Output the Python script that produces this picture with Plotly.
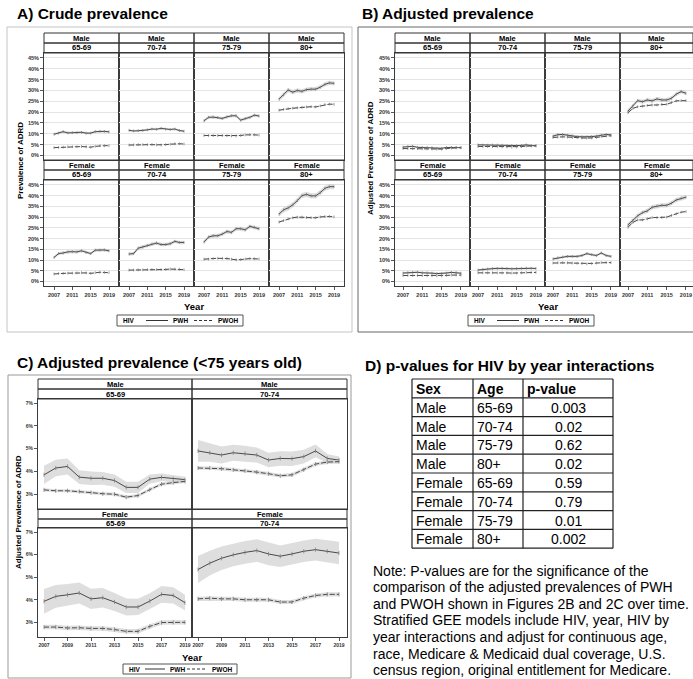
import plotly.graph_objects as go

W, H = 693, 679

# ---------------- data ----------------
years = [2007, 2008, 2009, 2010, 2011, 2012, 2013, 2014, 2015, 2016, 2017, 2018, 2019]
ab_xtick_vals = [2007, 2011, 2015, 2019]
c_xtick_vals = [2007, 2009, 2011, 2013, 2015, 2017, 2019]
ab_ytick_vals = [0, 5, 10, 15, 20, 25, 30, 35, 40, 45]
ab_ytick_text = ["0%", "5%", "10%", "15%", "20%", "25%", "30%", "35%", "40%", "45%"]
c_ytick_vals = [3, 4, 5, 6, 7]
c_ytick_text = ["3%", "4%", "5%", "6%", "7%"]
sexes = ["Male", "Female"]
ages = ["65-69", "70-74", "75-79", "80+"]
c_ages = ["65-69", "70-74"]

# A) crude prevalence (%)
a_m6569_pwh = [9.8, 10.3, 11.0, 10.4, 10.5, 10.5, 10.7, 10.3, 10.3, 11.0, 11.2, 11.1, 10.9]
a_m6569_pwoh = [3.6, 3.7, 3.8, 4.0, 4.0, 4.0, 4.1, 4.0, 3.8, 4.2, 4.5, 4.5, 4.5]
a_m7074_pwh = [11.6, 11.3, 11.4, 11.5, 11.8, 12.2, 12.1, 12.5, 12.1, 12.0, 12.2, 11.5, 11.2]
a_m7074_pwoh = [4.8, 4.9, 5.0, 5.0, 5.0, 5.0, 4.9, 4.8, 5.0, 5.2, 5.4, 5.4, 5.3]
a_m7579_pwh = [16.0, 17.6, 17.7, 17.5, 17.1, 17.8, 18.3, 18.3, 16.3, 17.0, 17.6, 18.6, 18.2]
a_m7579_pwoh = [9.2, 9.2, 9.2, 9.2, 9.2, 9.1, 9.0, 9.0, 9.2, 9.5, 9.6, 9.5, 9.4]
a_m80_pwh = [26.0, 28.0, 30.2, 29.2, 30.0, 29.6, 30.4, 30.6, 30.6, 31.5, 32.8, 33.5, 33.3]
a_m80_pwoh = [20.9, 21.3, 21.6, 21.8, 22.0, 22.2, 22.4, 22.5, 22.4, 22.9, 23.5, 23.7, 23.6]
a_f6569_pwh = [11.2, 13.0, 13.3, 13.8, 13.9, 13.8, 14.3, 13.5, 13.0, 14.6, 14.6, 14.7, 14.3]
a_f6569_pwoh = [3.5, 3.7, 3.8, 3.9, 3.9, 4.0, 4.1, 4.0, 3.8, 4.1, 4.3, 4.2, 4.1]
a_f7074_pwh = [12.8, 13.0, 15.5, 16.1, 16.8, 17.5, 17.9, 17.2, 17.2, 17.6, 18.7, 18.2, 18.2]
a_f7074_pwoh = [5.3, 5.3, 5.4, 5.4, 5.5, 5.6, 5.5, 5.5, 5.6, 5.8, 5.8, 5.7, 5.5]
a_f7579_pwh = [18.4, 20.7, 21.3, 21.3, 22.1, 23.3, 22.9, 24.6, 24.6, 24.1, 25.7, 25.3, 24.6]
a_f7579_pwoh = [10.4, 10.4, 10.7, 10.8, 10.8, 10.7, 10.4, 10.1, 10.2, 10.5, 10.7, 10.6, 10.5]
a_f80_pwh = [31.4, 33.4, 34.3, 35.7, 37.7, 40.0, 40.6, 39.9, 39.9, 41.4, 43.4, 44.2, 44.2]
a_f80_pwoh = [27.7, 28.4, 29.2, 29.7, 30.0, 30.0, 29.8, 29.7, 29.7, 30.1, 30.3, 30.3, 30.1]
# A) confidence half-widths (percentage points), PWH / PWOH per cell
a_pwh_hw = [0.5, 0.5, 0.7, 1.0, 0.7, 0.8, 0.9, 1.2]
a_pwoh_hw = [0.15, 0.15, 0.2, 0.3, 0.15, 0.2, 0.2, 0.3]

# C) adjusted prevalence (<75), also used for the <75 cells of B
c_m6569_pwh = [3.85, 4.15, 4.22, 3.75, 3.70, 3.70, 3.60, 3.30, 3.30, 3.66, 3.74, 3.68, 3.64]
c_m6569_pwoh = [3.19, 3.15, 3.15, 3.12, 3.07, 3.02, 3.00, 2.87, 2.94, 3.20, 3.44, 3.51, 3.56]
c_m7074_pwh = [4.90, 4.82, 4.72, 4.82, 4.78, 4.72, 4.50, 4.57, 4.56, 4.65, 4.90, 4.57, 4.50]
c_m7074_pwoh = [4.15, 4.15, 4.12, 4.07, 4.03, 3.97, 3.90, 3.81, 3.85, 4.07, 4.32, 4.41, 4.43]
c_f6569_pwh = [3.93, 4.15, 4.22, 4.30, 4.04, 4.09, 3.90, 3.68, 3.68, 3.94, 4.24, 4.19, 3.87]
c_f6569_pwoh = [2.79, 2.79, 2.75, 2.76, 2.73, 2.73, 2.68, 2.60, 2.60, 2.82, 2.99, 3.00, 3.00]
c_f7074_pwh = [5.34, 5.62, 5.84, 5.99, 6.10, 6.18, 6.03, 5.93, 6.03, 6.15, 6.22, 6.15, 6.07]
c_f7074_pwoh = [4.04, 4.07, 4.04, 4.04, 4.00, 4.00, 4.00, 3.90, 3.90, 4.07, 4.19, 4.24, 4.24]
c_m6569_pwh_hw = [0.40, 0.36, 0.35, 0.30, 0.30, 0.28, 0.27, 0.25, 0.25, 0.20, 0.17, 0.15, 0.13]
c_m6569_pwoh_hw = [0.07, 0.07, 0.07, 0.07, 0.07, 0.07, 0.07, 0.07, 0.07, 0.07, 0.07, 0.07, 0.07]
c_m7074_pwh_hw = [0.48, 0.40, 0.37, 0.35, 0.35, 0.33, 0.32, 0.32, 0.32, 0.30, 0.28, 0.20, 0.15]
c_m7074_pwoh_hw = [0.08, 0.08, 0.08, 0.08, 0.08, 0.08, 0.08, 0.08, 0.08, 0.08, 0.08, 0.08, 0.08]
c_f6569_pwh_hw = [0.55, 0.50, 0.48, 0.47, 0.45, 0.43, 0.40, 0.38, 0.36, 0.35, 0.37, 0.36, 0.35]
c_f6569_pwoh_hw = [0.10, 0.10, 0.10, 0.10, 0.10, 0.10, 0.10, 0.10, 0.10, 0.10, 0.10, 0.10, 0.10]
c_f7074_pwh_hw = [0.60, 0.55, 0.52, 0.50, 0.50, 0.50, 0.50, 0.48, 0.48, 0.48, 0.48, 0.48, 0.50]
c_f7074_pwoh_hw = [0.09, 0.09, 0.09, 0.09, 0.09, 0.09, 0.09, 0.09, 0.09, 0.09, 0.09, 0.09, 0.09]

# B) adjusted prevalence (%), 75+ cells
b_m7579_pwh = [8.9, 9.6, 9.7, 9.3, 9.0, 8.7, 8.6, 8.5, 8.7, 8.9, 9.4, 9.7, 9.5]
b_m7579_pwoh = [8.3, 8.5, 8.6, 8.5, 8.3, 8.2, 8.0, 8.0, 8.1, 8.3, 8.8, 9.0, 9.1]
b_m80_pwh = [20.5, 22.8, 25.3, 24.8, 25.6, 25.2, 26.1, 25.6, 25.6, 26.4, 28.3, 29.5, 28.7]
b_m80_pwoh = [19.7, 21.7, 22.5, 22.8, 23.1, 23.3, 23.3, 23.6, 23.6, 24.4, 25.2, 25.3, 25.3]
b_f7579_pwh = [10.5, 11.0, 11.4, 11.7, 11.7, 11.7, 12.1, 13.0, 12.5, 12.1, 13.3, 12.1, 11.7]
b_f7579_pwoh = [8.6, 8.7, 8.8, 8.7, 8.6, 8.5, 8.4, 8.2, 8.4, 8.6, 8.8, 8.8, 8.8]
b_f80_pwh = [26.4, 28.4, 30.6, 32.1, 32.9, 34.6, 35.2, 35.5, 35.5, 36.5, 38.0, 38.8, 39.3]
b_f80_pwoh = [25.3, 27.5, 28.7, 28.7, 29.2, 29.8, 29.8, 29.8, 30.0, 30.8, 31.5, 32.3, 32.6]
b_pwh_hw = [0.35, 0.35, 0.6, 0.9, 0.45, 0.5, 0.6, 1.0]
b_pwoh_hw = [0.07, 0.08, 0.15, 0.25, 0.1, 0.09, 0.15, 0.25]

# D) table
table_header = ["Sex", "Age", "p-value"]
table_sex = ["Male", "Male", "Male", "Male", "Female", "Female", "Female", "Female"]
table_age = ["65-69", "70-74", "75-79", "80+", "65-69", "70-74", "75-79", "80+"]
table_p = ["0.003", "0.02", "0.62", "0.02", "0.59", "0.79", "0.01", "0.002"]
note_lines = [
    "Note: P-values are for the significance of the",
    "comparison of the adjusted prevalences of PWH",
    "and PWOH shown in Figures 2B and 2C over time.",
    "Stratified GEE models include HIV, year, HIV by",
    "year interactions and adjust for continuous age,",
    "race, Medicare & Medicaid dual coverage, U.S.",
    "census region, original entitlement for Medicare.",
]
legend_title = "HIV"
legend_names = ["PWH", "PWOH"]

# ---------------- helpers ----------------
def fx(p):
    return p / W

def fy(p):
    return 1 - p / H

FONT = "Liberation Sans, Arial, sans-serif"
NARROW = "Liberation Sans Narrow, Liberation Sans, Arial, sans-serif"
LATTICE = "#3c3c3c"
BAND = "rgba(200,200,200,0.6)"
LINEC = "#4a4a4a"

fig = go.Figure()
layout = dict(width=W, height=H, margin=dict(l=0, r=0, t=0, b=0, pad=0), autosize=False,
              paper_bgcolor="white", plot_bgcolor="white", showlegend=False)
shapes = []
annots = []
n_ax = [0]


def new_axes(x0, x1, y0, y1, xr, yr, xticks, yvals, ytext, show_x, show_y, grid, tsize):
    n_ax[0] += 1
    s = "" if n_ax[0] == 1 else str(n_ax[0])
    layout["xaxis" + s] = dict(domain=[fx(x0), fx(x1)], range=xr, anchor="y" + s,
                               showline=True, mirror=True, linecolor=LATTICE, linewidth=1,
                               tickvals=xticks, ticktext=[str(v) for v in xticks],
                               ticks="outside" if show_x else "", ticklen=3, tickcolor="#555",
                               showticklabels=show_x, showgrid=False, zeroline=False,
                               tickfont=dict(family=NARROW, size=tsize, color="#333", weight="bold"),
                               fixedrange=True)
    layout["yaxis" + s] = dict(domain=[fy(y1), fy(y0)], range=yr, anchor="x" + s,
                               showline=True, mirror=True, linecolor=LATTICE, linewidth=1,
                               tickvals=yvals, ticktext=ytext,
                               ticks="outside" if show_y else "", ticklen=3, tickcolor="#555",
                               showticklabels=show_y, showgrid=grid, gridcolor="#e4e4e4",
                               gridwidth=1, zeroline=False,
                               tickfont=dict(family=NARROW, size=tsize, color="#333", weight="bold"),
                               fixedrange=True)
    return "x" + s, "y" + s


def add_series(xa, ya, vals, hw, dashed, marker_size):
    if isinstance(hw, (int, float)):
        hw = [hw] * len(vals)
    up = [v + h for v, h in zip(vals, hw)]
    lo = [v - h for v, h in zip(vals, hw)]
    fig.add_trace(go.Scatter(x=years + years[::-1], y=up + lo[::-1], xaxis=xa, yaxis=ya,
                             fill="toself", fillcolor=BAND, line=dict(width=0),
                             mode="lines", hoverinfo="skip"))
    fig.add_trace(go.Scatter(x=years, y=vals, xaxis=xa, yaxis=ya, mode="lines+markers",
                             line=dict(color=LINEC, width=1, dash="5px,2px" if dashed else "solid"),
                             marker=dict(symbol="line-ns", size=marker_size,
                                         line=dict(color="#777", width=0.7)),
                             hoverinfo="skip"))


def rect(x0, y0, x1, y1, color, width=1):
    shapes.append(dict(type="rect", xref="paper", yref="paper", x0=fx(x0), x1=fx(x1),
                       y0=fy(y1), y1=fy(y0), line=dict(color=color, width=width),
                       fillcolor="rgba(0,0,0,0)", layer="above"))


def hline(x0, x1, y, color, width=1, dash="solid"):
    shapes.append(dict(type="line", xref="paper", yref="paper", x0=fx(x0), x1=fx(x1),
                       y0=fy(y), y1=fy(y), line=dict(color=color, width=width, dash=dash)))


def vline(x, y0, y1, color, width=1):
    shapes.append(dict(type="line", xref="paper", yref="paper", x0=fx(x), x1=fx(x),
                       y0=fy(y0), y1=fy(y1), line=dict(color=color, width=width)))


def text(x, y, s, size, bold=False, anchor="left", angle=0, family=FONT, color="black"):
    annots.append(dict(x=fx(x), y=fy(y), xref="paper", yref="paper", text=s, showarrow=False,
                       xanchor=anchor, yanchor="middle", textangle=angle,
                       font=dict(family=family, size=size, color=color,
                                 weight="bold" if bold else "normal")))


def header(x0, x1, y0, ym, y1, sex, age, size):
    rect(x0, y0, x1, ym, "#333")
    rect(x0, ym, x1, y1, "#333")
    text((x0 + x1) / 2, (y0 + ym) / 2, sex, size, True, "center", family=NARROW)
    text((x0 + x1) / 2, (ym + y1) / 2, age, size, True, "center", family=NARROW)


def legend(x0, x1, y0, y1, parts, size):
    rect(x0, y0, x1, y1, "#555")
    ym = (y0 + y1) / 2
    hx, s0, s1, px1, d0, d1, px2 = parts
    text(hx, ym, legend_title, size, True, "left", family=NARROW)
    hline(s0, s1, ym, "#333", 1)
    text(px1, ym, legend_names[0], size, True, "left", family=NARROW)
    hline(d0, d1, ym, "#333", 1, "3px,2px")
    text(px2, ym, legend_names[1], size, True, "left", family=NARROW)


# ---------------- panel A & B ----------------
a_cells = [[a_m6569_pwh, a_m6569_pwoh], [a_m7074_pwh, a_m7074_pwoh],
           [a_m7579_pwh, a_m7579_pwoh], [a_m80_pwh, a_m80_pwoh],
           [a_f6569_pwh, a_f6569_pwoh], [a_f7074_pwh, a_f7074_pwoh],
           [a_f7579_pwh, a_f7579_pwoh], [a_f80_pwh, a_f80_pwoh]]
b_cells = [[c_m6569_pwh, c_m6569_pwoh], [c_m7074_pwh, c_m7074_pwoh],
           [b_m7579_pwh, b_m7579_pwoh], [b_m80_pwh, b_m80_pwoh],
           [c_f6569_pwh, c_f6569_pwoh], [c_f7074_pwh, c_f7074_pwoh],
           [b_f7579_pwh, b_f7579_pwoh], [b_f80_pwh, b_f80_pwoh]]

AB_YR = [-2.1, 47.3]
rows_ab = [(53, 160, 33, 43, 53), (180, 286, 160, 170, 180)]


def lattice_ab(cols, left_pad, ppy, cells, pwh_hw, pwoh_hw):
    for r, (py0, py1, hy0, hym, hy1) in enumerate(rows_ab):
        for c, (cx0, cx1) in enumerate(cols):
            xr = [2007 - left_pad / ppy, 2007 + (cx1 - cx0 - left_pad) / ppy]
            xa, ya = new_axes(cx0, cx1, py0, py1, xr, AB_YR, ab_xtick_vals,
                              ab_ytick_vals, ab_ytick_text, r == 1, c == 0, True, 5.5)
            k = r * 4 + c
            add_series(xa, ya, cells[k][0], pwh_hw[k], False, 2)
            add_series(xa, ya, cells[k][1], pwoh_hw[k], True, 2)
            header(cx0, cx1, hy0, hym, hy1, sexes[r], ages[c], 7.5)


lattice_ab([(44, 119), (119, 194), (194, 269), (269, 344)], 10, 4.583, a_cells, a_pwh_hw, a_pwoh_hw)
lattice_ab([(395, 470), (470, 545), (545, 620), (620, 693)], 8, 4.83, b_cells, b_pwh_hw, b_pwoh_hw)

# panel boxes
rect(7, 27, 352, 332, "#c4c4c4")
rect(358, 27, 700, 332, "#666")
rect(8, 375, 351, 678, "#999")

# titles
text(15, 13, "A) Crude prevalence", 15.5, True)
text(360, 13, "B) Adjusted prevalence", 15.5, True)
text(15, 362, "C) Adjusted prevalence (<75 years old)", 15.5, True)
text(363, 365, "D) p-values for HIV by year interactions", 15.5, True)

# axis titles
text(20, 161, "Prevalence of ADRD", 8, True, "center", -90)
text(370, 158, "Adjusted Prevalence of ADRD", 8, True, "center", -90)
text(18, 512, "Adjusted Prevalence of ADRD", 8, True, "center", -90)
text(194, 307, "Year", 9.5, True, "center")
text(548, 307, "Year", 9.5, True, "center")
text(192, 657, "Year", 9.5, True, "center")

legend(117, 243, 315, 326, (121, 146, 168, 171, 194, 213, 216), 6.5)
legend(468, 594, 315, 326, (472, 497, 519, 522, 545, 564, 567), 6.5)
legend(123, 237, 664, 674, (127, 145, 165, 168, 187, 207, 210), 6.5)

# ---------------- panel C ----------------
c_cells = [[c_m6569_pwh, c_m6569_pwh_hw, c_m6569_pwoh, c_m6569_pwoh_hw],
           [c_m7074_pwh, c_m7074_pwh_hw, c_m7074_pwoh, c_m7074_pwoh_hw],
           [c_f6569_pwh, c_f6569_pwh_hw, c_f6569_pwoh, c_f6569_pwoh_hw],
           [c_f7074_pwh, c_f7074_pwh_hw, c_f7074_pwoh, c_f7074_pwoh_hw]]
rows_c = [(399, 509, 379, 389, 399), (528, 637, 509, 519, 528)]
cols_c = [(38, 192), (192, 347)]
C_YR = [2.35, 7.18]
for r, (py0, py1, hy0, hym, hy1) in enumerate(rows_c):
    for c, (cx0, cx1) in enumerate(cols_c):
        xr = [2007 - 6 / 11.75, 2007 + (cx1 - cx0 - 6) / 11.75]
        xa, ya = new_axes(cx0, cx1, py0, py1, xr, C_YR, c_xtick_vals,
                          c_ytick_vals, c_ytick_text, r == 1, c == 0, False, 5)
        k = r * 2 + c
        add_series(xa, ya, c_cells[k][0], c_cells[k][1], False, 3)
        add_series(xa, ya, c_cells[k][2], c_cells[k][3], True, 3)
        header(cx0, cx1, hy0, hym, hy1, sexes[r], c_ages[c], 7.5)

# ---------------- panel D (table) ----------------
tx = [412, 473, 523, 613]
ty0 = 379
rh = 18.8
nrows = len(table_p) + 1
for i in range(nrows + 1):
    hline(tx[0], tx[-1], ty0 + i * rh, "#222", 1.2)
for xv in tx:
    vline(xv, ty0, ty0 + nrows * rh, "#222", 1.2)
for j, h in enumerate(table_header):
    text(tx[j] + 1.5, ty0 + rh / 2 + 0.5, h, 14, True)
for i in range(len(table_p)):
    yc = ty0 + (i + 1.5) * rh + 0.5
    text(tx[0] + 1.5, yc, table_sex[i], 14)
    text(tx[1] + 1.5, yc, table_age[i], 14)
    text((tx[2] + tx[3]) / 2, yc, table_p[i], 14, anchor="center")

for i, line in enumerate(note_lines):
    text(371, 570.5 + i * 16.6, line, 14)

layout["shapes"] = shapes
layout["annotations"] = annots
fig.update_layout(**layout)
fig.write_html("out.html",
               config={"displayModeBar": False, "staticPlot": True},
               post_script="document.body.style.margin='0';document.body.style.padding='0';"
                           "document.body.style.overflow='hidden';")
